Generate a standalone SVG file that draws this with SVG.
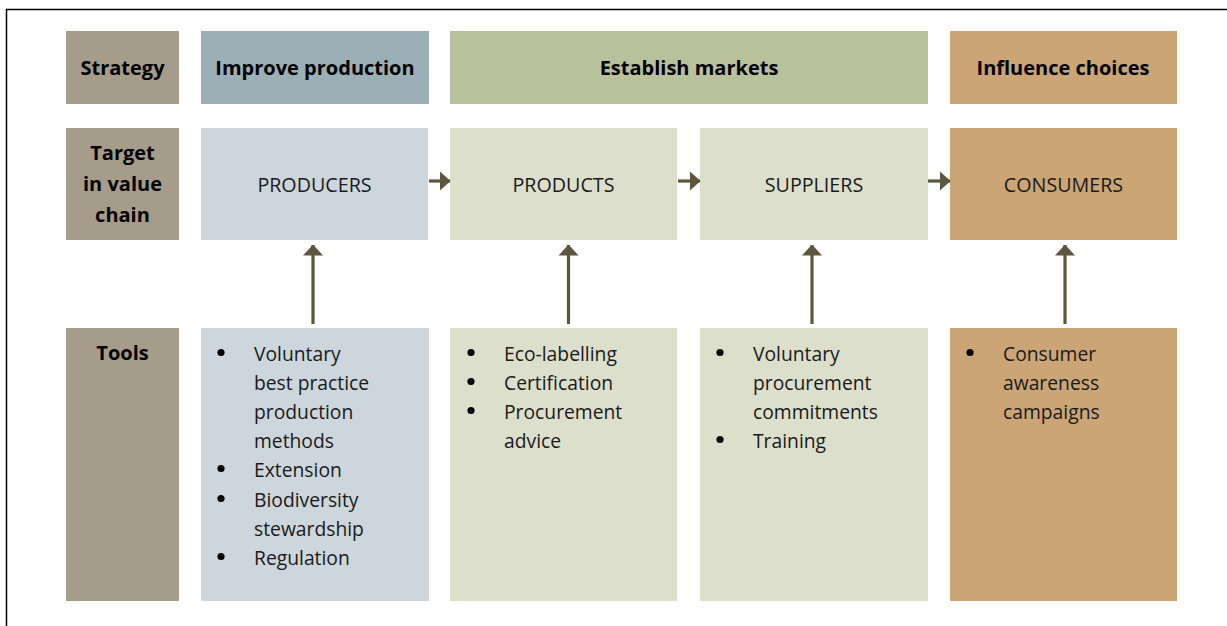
<svg xmlns="http://www.w3.org/2000/svg" width="1227" height="626" viewBox="0 0 1227 626">
<defs>
<style>
.lbl{fill:#A59C89}
.h{font-family:"Open Sans","Noto Sans",sans-serif;font-weight:700;font-size:20px;fill:#000;text-anchor:middle}
.b{font-family:"Open Sans","Noto Sans",sans-serif;font-size:19.7px;fill:#1a1a1a;text-anchor:middle}
.t{font-family:"Open Sans","Noto Sans",sans-serif;font-size:19.3px;fill:#1a1a1a}
.dot{fill:#000}
.con{stroke:#5E573F;stroke-width:3.2;fill:none}
</style>
<marker id="ah" viewBox="0 0 11 20" refX="10.5" refY="10" markerUnits="userSpaceOnUse" markerWidth="11" markerHeight="20" orient="auto" preserveAspectRatio="none">
<path d="M0,0 L11,10 L0,20 Z" fill="#5E573F"/>
</marker>
</defs>
<rect x="0" y="0" width="1227" height="626" fill="#fff"/>
<path d="M6.5,626 V9.5 H1227" fill="none" stroke="#000" stroke-width="1.5"/>

<g id="strategy-label"><rect class="lbl" x="66" y="31" width="113" height="73"/><text class="h" x="122.5" y="75">Strategy</text></g>
<g id="improve-production"><rect x="201" y="31" width="228" height="73" fill="#9BAFB6"/><text class="h" x="315" y="75">Improve production</text></g>
<g id="establish-markets"><rect x="450" y="31" width="478" height="73" fill="#B9C19C"/><text class="h" x="689" y="75">Establish markets</text></g>
<g id="influence-choices"><rect x="950" y="31" width="227" height="73" fill="#CBA575"/><text class="h" x="1063" y="75">Influence choices</text></g>

<g id="target-label"><rect class="lbl" x="66" y="128" width="113" height="112"/><text class="h" x="122.5" y="160">Target</text><text class="h" x="122.5" y="191">in value</text><text class="h" x="122.5" y="222">chain</text></g>
<g id="producers"><rect x="201" y="128" width="227" height="112" fill="#CDD6DC"/><text class="b" x="314.5" y="192">PRODUCERS</text></g>
<g id="products"><rect x="450" y="128" width="227" height="112" fill="#DCDFCB"/><text class="b" x="563.5" y="192">PRODUCTS</text></g>
<g id="suppliers"><rect x="700" y="128" width="228" height="112" fill="#DCDFCB"/><text class="b" x="814" y="192">SUPPLIERS</text></g>
<g id="consumers"><rect x="950" y="128" width="227" height="112" fill="#CBA575"/><text class="b" x="1063.5" y="192">CONSUMERS</text></g>

<g id="tools-label"><rect class="lbl" x="66" y="328" width="113" height="273"/><text class="h" x="122.5" y="360">Tools</text></g>
<g id="producer-tools"><rect x="201" y="328" width="228" height="273" fill="#CDD6DC"/>
<circle class="dot" cx="221" cy="352.5" r="3.6"/><circle class="dot" cx="221" cy="468.5" r="3.6"/><circle class="dot" cx="221" cy="498.5" r="3.6"/><circle class="dot" cx="221" cy="556.5" r="3.6"/>
<text class="t"><tspan x="254" y="361">Voluntary</tspan><tspan x="254" y="390">best practice</tspan><tspan x="254" y="419">production</tspan><tspan x="254" y="448">methods</tspan><tspan x="254" y="477">Extension</tspan><tspan x="254" y="507">Biodiversity</tspan><tspan x="254" y="536">stewardship</tspan><tspan x="254" y="565">Regulation</tspan></text></g>
<g id="product-tools"><rect x="450" y="328" width="227" height="273" fill="#DCDFCB"/>
<circle class="dot" cx="471" cy="352.5" r="3.6"/><circle class="dot" cx="471" cy="381.5" r="3.6"/><circle class="dot" cx="471" cy="410.5" r="3.6"/>
<text class="t"><tspan x="504" y="361">Eco-labelling</tspan><tspan x="504" y="390">Certification</tspan><tspan x="504" y="419">Procurement</tspan><tspan x="504" y="448">advice</tspan></text></g>
<g id="supplier-tools"><rect x="700" y="328" width="228" height="273" fill="#DCDFCB"/>
<circle class="dot" cx="720" cy="352.5" r="3.6"/><circle class="dot" cx="720" cy="439.5" r="3.6"/>
<text class="t"><tspan x="753" y="361">Voluntary</tspan><tspan x="753" y="390">procurement</tspan><tspan x="753" y="419">commitments</tspan><tspan x="753" y="448">Training</tspan></text></g>
<g id="consumer-tools"><rect x="950" y="328" width="227" height="273" fill="#CBA575"/>
<circle class="dot" cx="970" cy="352.5" r="3.6"/>
<text class="t"><tspan x="1003" y="361">Consumer</tspan><tspan x="1003" y="390">awareness</tspan><tspan x="1003" y="419">campaigns</tspan></text></g>

<g id="connectors">
<line class="con" x1="429" y1="181" x2="450" y2="181" marker-end="url(#ah)"/>
<line class="con" x1="678" y1="181" x2="700" y2="181" marker-end="url(#ah)"/>
<line class="con" x1="928" y1="181" x2="950" y2="181" marker-end="url(#ah)"/>
<line class="con" x1="313" y1="324" x2="313" y2="245" marker-end="url(#ah)"/>
<line class="con" x1="568.5" y1="324" x2="568.5" y2="245" marker-end="url(#ah)"/>
<line class="con" x1="812" y1="324" x2="812" y2="245" marker-end="url(#ah)"/>
<line class="con" x1="1065" y1="324" x2="1065" y2="245" marker-end="url(#ah)"/>
</g>
</svg>
